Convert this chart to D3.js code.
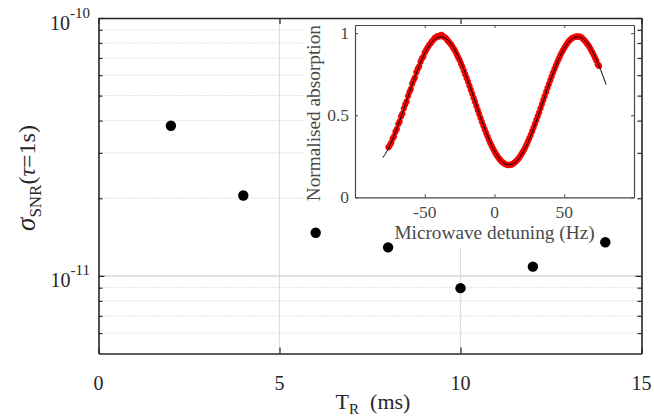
<!DOCTYPE html>
<html><head><meta charset="utf-8">
<script src="https://cdn.jsdelivr.net/npm/d3@7"></script>
</head><body style="margin:0;background:#fff">
<svg id="c" width="654" height="416" style="display:block"></svg>
<script>
// ---------- data ----------
const trMs = [2, 4, 6, 8, 10, 12, 14];
const sigmaSNR = [3.82e-11, 2.05e-11, 1.47e-11, 1.29e-11, 8.96e-12, 1.086e-11, 1.35e-11];
const xTicks = [0, 5, 10, 15];
const yMajorTicks = [1e-11, 1e-10];
const yMajorExp = ["-11", "-10"];
const yMinorTicks = [6e-12, 7e-12, 8e-12, 9e-12, 2e-11, 3e-11, 4e-11, 5e-11, 6e-11, 7e-11, 8e-11, 9e-11];

const detuningHz = [-76,-75,-74,-73,-72,-71,-70,-69,-68,-67,-66,-65,-64,-63,-62,-61,-60,-59,-58,-57,-56,-55,-54,-53,-52,-51,-50,-49,-48,-47,-46,-45,-44,-43,-42,-41,-40,-39,
-38,-37,-36,-35,-34,-33,-32,-31,-30,-29,-28,-27,-26,-25,-24,-23,-22,-21,-20,-19,-18,-17,-16,-15,-14,-13,-12,-11,-10,-9,-8,-7,-6,-5,-4,-3,-2,-1,0,1,2,3,4,5,6,7,8,9,10,
11,12,13,14,15,16,17,18,19,20,21,22,23,24,25,26,27,28,29,30,31,32,33,34,35,36,37,38,39,40,41,42,43,44,45,46,47,48,49,50,51,52,53,54,55,56,57,58,59,60,61,62,63,64,65,66,67,68,69,70,71,72,73,74,75];
const absorption = [.305,.318,.333,.358,.372,.400,.416,.446,.462,.493,.510,.541,.566,.584,.617,.641,.660,.692,.714,.731,.762,.784,.798,.826,.846,.857,.882,.897,.912,.926,.937,.948,.958,.970,.974,.982,.979,.986,
.990,.983,.975,.972,.960,.950,.940,.930,.916,.902,.889,.870,.852,.836,.814,.795,.772,.750,.727,.705,.680,.656,.632,.606,.583,.557,.532,.508,.484,.459,.437,.414,.392,.371,.350,.331,.313,.296,.280,.265,.252,.239,.229,.219,.212,.206,.201,.198,.196,
.197,.199,.203,.209,.216,.224,.234,.246,.259,.273,.288,.304,.322,.341,.361,.381,.403,.425,.448,.471,.494,.518,.543,.568,.593,.618,.642,.667,.690,.714,.737,.760,.782,.803,.824,.843,.861,.879,.895,.910,.924,.937,.949,.958,.966,.972,.975,.979,.980,
.979,.980,.976,.969,.961,.952,.941,.929,.917,.902,.886,.870,.851,.834,.810,.800];

const fitHz = [-80,-78,-76,-74,-72,-70,-68,-66,-64,-62,-60,-58,-56,-54,-52,-50,-48,-46,-44,-42,-40,-38,-36,-34,-32,-30,-28,-26,-24,-22,-20,-18,-16,-14,-12,-10,-8,-6,-4,-2,0,
2,4,6,8,10,12,14,16,18,20,22,24,26,28,30,32,34,36,38,40,42,44,46,48,50,52,54,56,58,60,62,64,66,68,70,72,74,76,78,80];
const fitAbs = [.242,.268,.299,.335,.375,.419,.465,.513,.563,.613,.663,.711,.757,.801,.841,.877,.908,.934,.954,.968,.976,.978,
.973,.962,.945,.921,.893,.859,.821,.779,.734,.687,.638,.588,.538,.489,.442,.397,.355,.317,.283,.255,.231,.214,.203,.198,
.200,.208,.222,.242,.268,.299,.335,.375,.419,.465,.513,.563,.613,.663,.711,.757,.801,.841,.877,.908,.934,.954,.968,.976,.978,
.973,.962,.945,.921,.893,.859,.821,.779,.734,.687];

const insetXTicks = [-50, 0, 50];
const insetXTickLabels = ["-50", "0", "50"];
const insetYTicks = [0, 0.5, 1];
const insetYTickLabels = ["0", "0.5", "1"];

// ---------- layout ----------
const FONT = '"Liberation Serif"';
const svg = d3.select("#c");
const L = 98.5, R = 641.5, T = 18, B = 353.5;
const X = d3.scaleLinear().domain([0, 15]).range([L, R]);
const Y = d3.scaleLog().domain([5e-12, 1e-10]).range([B, T]);
const axisColor = "#262626";

// grid
const grid = svg.append("g");
grid.selectAll("line.gx").data(xTicks.filter(v => v > 0 && v < 15)).join("line")
  .attr("x1", d => X(d)).attr("x2", d => X(d)).attr("y1", T).attr("y2", B)
  .attr("stroke", "#dedede").attr("stroke-width", 1.2);
grid.selectAll("line.gy").data(yMajorTicks.filter(v => v < 1e-10)).join("line")
  .attr("x1", L).attr("x2", R).attr("y1", d => Y(d)).attr("y2", d => Y(d))
  .attr("stroke", "#cfcfcf").attr("stroke-width", 1.2);
grid.selectAll("line.gm").data(yMinorTicks).join("line")
  .attr("x1", L).attr("x2", R).attr("y1", d => Y(d)).attr("y2", d => Y(d))
  .attr("stroke", "#c4c4c4").attr("stroke-width", 1).attr("stroke-dasharray", "1,2");

// white panel behind inset
svg.append("rect").attr("x", 304).attr("y", T).attr("width", R - 304).attr("height", 247 - T).attr("fill", "#fff");

// main axes
function styleAxis(g) {
  g.selectAll("path").attr("stroke", axisColor).attr("stroke-width", 1.6);
  g.selectAll("line").attr("stroke", axisColor).attr("stroke-width", 1.2);
  g.selectAll("text").remove();
}
svg.append("g").attr("transform", `translate(0,${B})`)
  .call(d3.axisBottom(X).tickValues(xTicks).tickSizeInner(-6).tickSizeOuter(0)).call(styleAxis);
svg.append("g").attr("transform", `translate(0,${T})`)
  .call(d3.axisTop(X).tickValues(xTicks).tickSizeInner(-6).tickSizeOuter(0)).call(styleAxis);
svg.append("g").attr("transform", `translate(${L},0)`)
  .call(d3.axisLeft(Y).tickValues(yMajorTicks).tickSizeInner(-6).tickSizeOuter(0)).call(styleAxis);
svg.append("g").attr("transform", `translate(${L},0)`)
  .call(d3.axisLeft(Y).tickValues(yMinorTicks).tickSizeInner(-4).tickSizeOuter(0)).call(styleAxis)
  .select("path").remove();
svg.append("g").attr("transform", `translate(${R},0)`)
  .call(d3.axisRight(Y).tickValues(yMajorTicks).tickSizeInner(-6).tickSizeOuter(0)).call(styleAxis);
svg.append("g").attr("transform", `translate(${R},0)`)
  .call(d3.axisRight(Y).tickValues(yMinorTicks).tickSizeInner(-4).tickSizeOuter(0)).call(styleAxis)
  .select("path").remove();

// tick labels
svg.append("g").selectAll("text").data(xTicks).join("text")
  .attr("x", d => X(d)).attr("y", 390).attr("text-anchor", "middle").style("font-family", FONT)
  .attr("font-size", 20).attr("fill", axisColor).text(d => d);
const yl = svg.append("g").selectAll("text").data(yMajorTicks).join("text")
  .attr("x", 90).attr("y", d => Y(d) + 11.5).attr("text-anchor", "end").style("font-family", FONT)
  .attr("fill", axisColor);
yl.append("tspan").attr("font-size", 20).text("10");
yl.append("tspan").attr("font-size", 15).attr("dy", -12).text((d, i) => yMajorExp[i]);

// axis titles
const xt = svg.append("text").attr("x", 373).attr("y", 409).attr("text-anchor", "middle").style("font-family", FONT)
  .attr("fill", axisColor).attr("font-size", 22);
xt.append("tspan").text("T");
xt.append("tspan").attr("font-size", 15).attr("dy", 5).text("R");
xt.append("tspan").attr("dy", -5).text("\u00a0\u00a0(ms)");

const ytl = svg.append("text").attr("transform", "translate(35,178) rotate(-90)").style("font-family", FONT)
  .attr("text-anchor", "middle").attr("fill", axisColor).attr("font-size", 24);
ytl.append("tspan").attr("font-style", "italic").attr("font-size", 27).text("σ");
ytl.append("tspan").attr("font-size", 17).attr("dy", 6).text("SNR");
ytl.append("tspan").attr("dy", -6).text("(");
ytl.append("tspan").attr("font-style", "italic").text("τ");
ytl.append("tspan").text("=1s)");

// main data
svg.append("g").selectAll("circle").data(trMs).join("circle")
  .attr("cx", d => X(d)).attr("cy", (d, i) => Y(sigmaSNR[i])).attr("r", 5.2).attr("fill", "#000");

// ---------- inset ----------
const IL = 355, IR = 634, IT = 25, IB = 197.3;
const XI = d3.scaleLinear().domain([-100, 100]).range([IL, IR]);
const YI = d3.scaleLinear().domain([0, 1.05]).range([IB, IT]);
const insetColor = "#4a4a4a";
svg.append("rect").attr("x", IL).attr("y", IT).attr("width", IR - IL).attr("height", IB - IT)
  .attr("fill", "#fff");

function styleInset(g) {
  g.selectAll("path").attr("stroke", insetColor).attr("stroke-width", 1.2);
  g.selectAll("line").attr("stroke", insetColor).attr("stroke-width", 1);
  g.selectAll("text").remove();
}
svg.append("g").attr("transform", `translate(0,${IB})`)
  .call(d3.axisBottom(XI).tickValues(insetXTicks).tickSizeInner(-3).tickSizeOuter(0)).call(styleInset);
svg.append("g").attr("transform", `translate(0,${IT})`)
  .call(d3.axisTop(XI).tickValues(insetXTicks).tickSizeInner(-3).tickSizeOuter(0)).call(styleInset);
svg.append("g").attr("transform", `translate(${IL},0)`)
  .call(d3.axisLeft(YI).tickValues(insetYTicks).tickSizeInner(-3).tickSizeOuter(0)).call(styleInset);
svg.append("g").attr("transform", `translate(${IR},0)`)
  .call(d3.axisRight(YI).tickValues(insetYTicks).tickSizeInner(-3).tickSizeOuter(0)).call(styleInset);

// red measured points
svg.append("g").selectAll("circle").data(detuningHz).join("circle")
  .attr("cx", d => XI(d)).attr("cy", (d, i) => YI(absorption[i])).attr("r", 2.9)
  .attr("fill", "#ff0000").attr("stroke", "#e00000").attr("stroke-width", 0.4);

// fit line
svg.append("path")
  .datum(fitHz.map((f, i) => [f, fitAbs[i]]))
  .attr("d", d3.line().x(d => XI(d[0])).y(d => YI(d[1])).curve(d3.curveMonotoneX))
  .attr("fill", "none").attr("stroke", "#000").attr("stroke-width", 1);

// inset tick labels
svg.append("g").selectAll("text").data(insetXTicks).join("text")
  .attr("x", d => XI(d)).attr("y", 218).attr("text-anchor", "middle").style("font-family", FONT)
  .attr("font-size", 17.5).attr("fill", insetColor).text((d, i) => insetXTickLabels[i]);
svg.append("g").selectAll("text").data(insetYTicks).join("text")
  .attr("x", 349).attr("y", d => YI(d)).attr("dy", "0.35em").attr("text-anchor", "end").style("font-family", FONT)
  .attr("font-size", 17.5).attr("fill", insetColor).text((d, i) => insetYTickLabels[i]);

svg.append("text").attr("x", (IL + IR) / 2).attr("y", 239).attr("text-anchor", "middle").style("font-family", FONT)
  .attr("font-size", 19.3).attr("fill", insetColor).text("Microwave detuning (Hz)");
svg.append("text").attr("transform", `translate(320,${(IT + IB) / 2 + 2}) rotate(-90)`).style("font-family", FONT)
  .attr("text-anchor", "middle").attr("font-size", 19.3).attr("fill", insetColor)
  .text("Normalised absorption");
</script>
</body></html>
